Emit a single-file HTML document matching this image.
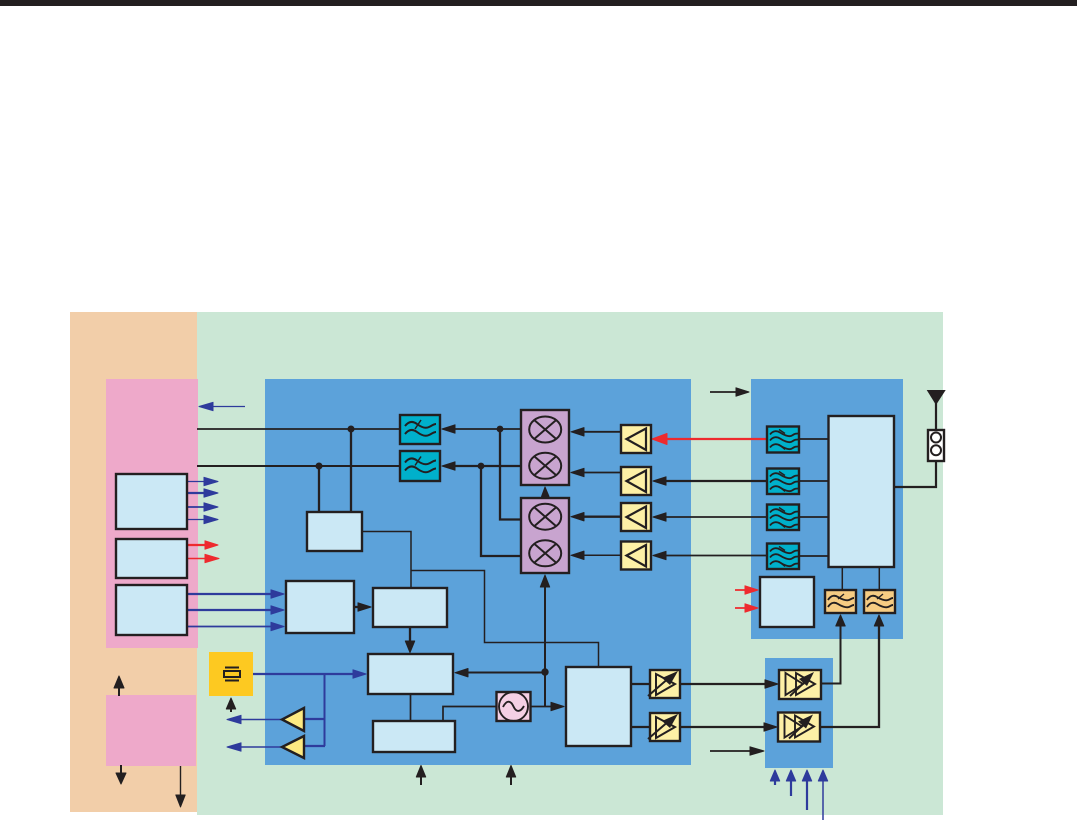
<!DOCTYPE html>
<html>
<head>
<meta charset="utf-8">
<style>
html,body{margin:0;padding:0;background:#fff;width:1077px;height:821px;overflow:hidden}
svg{display:block}
</style>
</head>
<body>
<svg width="1077" height="821" viewBox="0 0 1077 821" xmlns="http://www.w3.org/2000/svg">
<defs>
<g id="f2" fill="none" stroke="#231f20" stroke-width="2">
<path d="M5 11 C9 6 13 6 17 9 S25 14 29 12 S34 9 36 9"/>
<path d="M5 19 C9 14 13 14 17 17 S25 22 29 20 S34 17 36 17"/>
<path d="M15 14 L21 5" stroke-width="1.500"/>
</g>
<g id="f3" fill="none" stroke="#231f20" stroke-width="1.800">
<path d="M3 8 C6 4 10 4 13 6 S22 11 25 9 S29 7 31 7"/>
<path d="M3 14 C6 10 10 10 13 12 S22 17 25 15 S29 13 31 13"/>
<path d="M3 21 C6 17 10 17 13 19 S22 24 25 22 S29 20 31 20"/>
<path d="M12 3 L18 7 M12 18 L18 23" stroke-width="1.400"/>
</g>
<g id="f2p" fill="none" stroke="#231f20" stroke-width="1.900">
<path d="M3 10 C6 5 10 5 13 7 S21 11 24 10 S27 8 29 8"/>
<path d="M3 17 C6 12 10 12 13 14 S21 18 24 17 S27 15 29 15"/>
<path d="M13 9 L19 4" stroke-width="1.400"/>
</g>
<g id="mx" fill="none" stroke="#231f20" stroke-width="2">
<ellipse cx="0" cy="0" rx="16" ry="13"/>
<path d="M-11 -9.500 L11 9.500 M-11 9.500 L11 -9.500"/>
</g>
<g id="amp">
<rect x="0" y="0" width="30" height="28" fill="#fdf0a6" stroke="#231f20" stroke-width="2.400"/>
<path d="M25 3.500 L5.500 14 L25 25 Z" fill="none" stroke="#231f20" stroke-width="2.200"/>
</g>
<g id="pa">
<rect x="0" y="0" width="30" height="28" fill="#fdf0a6" stroke="#231f20" stroke-width="2.400"/>
<path d="M6 4 L25 14 L6 25 Z" fill="none" stroke="#231f20" stroke-width="2"/>
<path d="M-2 26 L20 7" stroke="#231f20" stroke-width="2"/>
<path d="M28 1 L12 8 L20 15 Z" fill="#231f20"/>
</g>
<g id="dr">
<rect x="0" y="0" width="42" height="29" fill="#fdf0a6" stroke="#231f20" stroke-width="2.400"/>
<path d="M6.500 3 L6.500 25 L24 14 Z M17 3 L17 25 L36 14 Z" fill="none" stroke="#231f20" stroke-width="1.900"/>
<path d="M11 26 L30 8" stroke="#231f20" stroke-width="1.900"/>
<path d="M35 2 L20 9 L28 16 Z" fill="#231f20"/>
</g>
</defs>

<!-- top bar -->
<rect x="0" y="0" width="1077" height="6" fill="#231f20"/>

<!-- backgrounds -->
<rect x="70" y="312" width="128" height="500" fill="#f2cea9"/>
<rect x="197" y="312" width="746" height="503" fill="#cbe7d5"/>
<rect x="106" y="379" width="92" height="269" fill="#eea9ca"/>
<rect x="106" y="695" width="90" height="71" fill="#eea9ca"/>
<rect x="265" y="379" width="426" height="386" fill="#5ca2da"/>
<rect x="751" y="379" width="152" height="260" fill="#5ca2da"/>
<rect x="765" y="658" width="68" height="110" fill="#5ca2da"/>
<rect x="209" y="652" width="44" height="44" fill="#fdc921"/>

<!-- black wiring -->
<g fill="none" stroke="#231f20">
<path d="M197 429H399" stroke-width="1.700"/>
<path d="M197 466H399" stroke-width="2"/>
<path d="M351 429V512M319 466V512" stroke-width="2.300"/>
<path d="M362 531.500H411V588" stroke-width="1.500"/>
<path d="M411 570.500H484.500V642.500H598.500V667" stroke-width="1.500"/>
<path d="M410 627V644" stroke-width="2.300"/>
<path d="M354 607H360" stroke-width="2.300"/>
<path d="M520 429H450" stroke-width="1.700"/>
<path d="M520 466H450" stroke-width="2.300"/>
<path d="M500 429V519.500H520M481 466V556H520" stroke-width="2.300"/>
<path d="M620 431.800H580" stroke-width="1.800"/>
<path d="M620 472.500H580" stroke-width="1.800"/>
<path d="M620 516.700H580" stroke-width="2.300"/>
<path d="M620 555.300H580" stroke-width="1.500"/>
<path d="M766 481H662" stroke-width="2.300"/>
<path d="M766 517H662" stroke-width="1.800"/>
<path d="M766 555.500H662" stroke-width="1.800"/>
<path d="M799 439H829M799 481H829M799 517H829M799 556H829" stroke-width="1.700"/>
<path d="M545 585V706.500" stroke-width="2"/>
<path d="M545 672.500H464" stroke-width="2"/>
<path d="M410.500 694V721" stroke-width="1.700"/>
<path d="M443 721V706.500H496" stroke-width="1.700"/>
<path d="M531 706.500H555" stroke-width="1.700"/>
<path d="M631 684H650M631 727H650" stroke-width="2.300"/>
<path d="M680 684H768M680 727H767" stroke-width="2.300"/>
<path d="M821 683.500H840.500V625" stroke-width="2"/>
<path d="M820 727H879V625" stroke-width="2.300"/>
<path d="M842.300 567V590M879.300 567V590" stroke-width="1.500"/>
<path d="M894 487H936V461M936 430V400" stroke-width="2.200"/>
<path d="M710 392H738M710 751H752" stroke-width="1.700"/>
<path d="M119 696V686M121 765V776M231 712V704M421 785V774M511 785V774" stroke-width="2"/>
<path d="M180.500 766V797" stroke-width="1.400"/>
</g>
<!-- black dots -->
<g fill="#231f20">
<circle cx="351" cy="429" r="3.500"/>
<circle cx="319" cy="466" r="3.500"/>
<circle cx="500" cy="429" r="3.400"/>
<circle cx="481" cy="466" r="3.400"/>
<circle cx="545" cy="672" r="3.700"/>
</g>

<!-- navy wiring -->
<g fill="none" stroke="#2e3b9c">
<path d="M245 406.500H210" stroke-width="1.300"/>
<path d="M187 481.500H206M187 519.500H206" stroke-width="1.300"/>
<path d="M187 493H206" stroke-width="2.200"/>
<path d="M187 507H206" stroke-width="1.800"/>
<path d="M187 594H273M187 610H273" stroke-width="2.200"/>
<path d="M187 626.500H273" stroke-width="1.800"/>
<path d="M253 674H355" stroke-width="2.200"/>
<path d="M324.500 674V746" stroke-width="2"/>
<path d="M304 719H325M304 746H325" stroke-width="2.200"/>
<path d="M282 719.500H238M282 747H238" stroke-width="1.500"/>
<path d="M775 778V785M791 778V796M807 778V810" stroke-width="2.200"/>
<path d="M823 778V820" stroke-width="1.500"/>
</g>
<!-- navy heads -->
<g fill="#2e3b9c" stroke="#2e3b9c" stroke-width="1" stroke-linejoin="round">
<path d="M199 406.500L213 402.300V410.700Z"/>
<path d="M218 481.500L204 477.300V485.700Z"/>
<path d="M218 493L204 488.800V497.200Z"/>
<path d="M218 507L204 502.800V511.200Z"/>
<path d="M218 519.500L204 515.300V523.700Z"/>
<path d="M284 594L271 589.800V598.200Z"/>
<path d="M284 610L271 605.800V614.200Z"/>
<path d="M284 626.500L271 622.300V630.700Z"/>
<path d="M366 674L353 669.800V678.200Z"/>
<path d="M227 719.500L241 715.300V723.700Z"/>
<path d="M227 747L241 742.800V751.200Z"/>
<path d="M775 770L770.300 781H779.700Z"/>
<path d="M791 770L786.300 781H795.700Z"/>
<path d="M807 770L802.300 781H811.700Z"/>
<path d="M823 770L818.300 781H827.700Z"/>
</g>

<!-- red -->
<g fill="none" stroke="#ee2a2e">
<path d="M187 545H208" stroke-width="2.200"/>
<path d="M187 558.500H208" stroke-width="1.500"/>
<path d="M660 439H766" stroke-width="2.200"/>
<path d="M735 590H748M735 608H748" stroke-width="1.800"/>
</g>
<g fill="#ee2a2e" stroke="#ee2a2e" stroke-width="1" stroke-linejoin="round">
<path d="M218 545L205 540.800V549.200Z"/>
<path d="M219 558.500L205 554.300V562.700Z"/>
<path d="M652 439L667 433.500V444.500Z"/>
<path d="M758 590L745 585.800V594.200Z"/>
<path d="M758 608L745 603.800V612.200Z"/>
</g>

<!-- light boxes -->
<g fill="#cbe8f5" stroke="#231f20" stroke-width="2.400">
<rect x="116" y="474" width="71" height="55"/>
<rect x="116" y="539" width="71" height="39"/>
<rect x="116" y="585" width="71" height="50"/>
<rect x="307" y="512" width="55" height="39"/>
<rect x="286" y="581" width="68" height="52"/>
<rect x="373" y="588" width="74" height="39"/>
<rect x="368" y="654" width="85" height="40"/>
<rect x="373" y="721" width="82" height="31"/>
<rect x="566" y="667" width="65" height="79"/>
<rect x="828.500" y="416" width="65.500" height="151"/>
<rect x="760" y="577" width="54" height="50"/>
</g>

<!-- crystal -->
<g fill="none" stroke="#231f20" stroke-width="2">
<rect x="224" y="671" width="16" height="6"/>
<path d="M225 667.500H239M225 680.500H239"/>
</g>

<!-- yellow triangles -->
<g fill="#fdea82" stroke="#231f20" stroke-width="2.400">
<path d="M304 708L282 719.500L304 731Z"/>
<path d="M304 736L282 747L304 758Z"/>
</g>

<!-- mixers -->
<rect x="521" y="410" width="48" height="75" fill="#c8a4cf" stroke="#231f20" stroke-width="2.400"/>
<rect x="521" y="498" width="48" height="75" fill="#c8a4cf" stroke="#231f20" stroke-width="2.400"/>
<use href="#mx" x="545.200" y="429.500"/>
<use href="#mx" x="545.200" y="465.800"/>
<use href="#mx" x="545.200" y="516.700"/>
<use href="#mx" x="545.200" y="553.300"/>

<!-- teal filters (left) -->
<rect x="400" y="415" width="40" height="29" fill="#00b0cb" stroke="#231f20" stroke-width="2.400"/>
<rect x="400" y="451" width="40" height="30" fill="#00b0cb" stroke="#231f20" stroke-width="2.400"/>
<use href="#f2" x="400" y="415"/>
<use href="#f2" x="400" y="451.500"/>

<!-- teal filters (right) -->
<g fill="#00b0cb" stroke="#231f20" stroke-width="2.400">
<rect x="767" y="426.500" width="32" height="26"/>
<rect x="767" y="468.500" width="32" height="25.500"/>
<rect x="767" y="504.500" width="32" height="25.500"/>
<rect x="767" y="543.500" width="32" height="25.500"/>
</g>
<use href="#f3" x="767" y="426.500"/>
<use href="#f3" x="767" y="468.500"/>
<use href="#f3" x="767" y="504.500"/>
<use href="#f3" x="767" y="543.500"/>

<!-- peach filters -->
<rect x="825" y="590" width="31" height="23" fill="#f6cc83" stroke="#231f20" stroke-width="2.400"/>
<rect x="864" y="590" width="31" height="23" fill="#f6cc83" stroke="#231f20" stroke-width="2.400"/>
<use href="#f2p" x="825" y="590"/>
<use href="#f2p" x="864" y="590"/>

<!-- rx amps -->
<use href="#amp" x="621" y="425"/>
<use href="#amp" x="621" y="467"/>
<use href="#amp" x="621" y="503"/>
<use href="#amp" x="621" y="541.500"/>

<!-- PAs -->
<use href="#pa" x="650" y="670"/>
<use href="#pa" x="650" y="713"/>
<use href="#dr" x="779" y="670"/>
<use href="#dr" x="778" y="712.500"/>

<!-- oscillator -->
<rect x="496.500" y="692" width="34" height="29" fill="#f4d0e4" stroke="#231f20" stroke-width="2.400"/>
<circle cx="513.500" cy="706.500" r="14.500" fill="none" stroke="#231f20" stroke-width="1.900"/>
<path d="M503 707C507 699 511 701 513.500 706.500S520 713 524 706" fill="none" stroke="#231f20" stroke-width="1.900"/>

<!-- antenna -->
<rect x="928" y="430" width="16" height="31" fill="#fff" stroke="#231f20" stroke-width="2.400"/>
<circle cx="936" cy="437.500" r="5" fill="#fff" stroke="#231f20" stroke-width="2"/>
<circle cx="936" cy="450.300" r="5" fill="#fff" stroke="#231f20" stroke-width="2"/>
<path d="M926.700 390H945.700L936 405Z" fill="#231f20"/>

<!-- black heads -->
<g fill="#231f20" stroke="#231f20" stroke-width="1" stroke-linejoin="round">
<path d="M371 607L358 602.800V611.200Z"/>
<path d="M410 652.500L405.300 641H414.700Z"/>
<path d="M442 429L455 424.800V433.200Z"/>
<path d="M442 466L455 461.800V470.200Z"/>
<path d="M571 431.800L584 427.600V436Z"/>
<path d="M571 472.500L584 468.300V476.700Z"/>
<path d="M571 516.700L584 512.500V520.900Z"/>
<path d="M571 555.300L584 551.100V559.500Z"/>
<path d="M653 481L666 476.800V485.200Z"/>
<path d="M653 517L666 512.800V521.200Z"/>
<path d="M653 555.500L666 551.300V559.700Z"/>
<path d="M545 487L541.500 496.500H549Z"/>
<path d="M545 575L540.300 587H549.700Z"/>
<path d="M455 672.700L468 668.500V676.900Z"/>
<path d="M564 706.500L551 702.300V710.700Z"/>
<path d="M778 684L765 679.800V688.200Z"/>
<path d="M777 727L764 722.800V731.200Z"/>
<path d="M840.500 615L835.800 626H845.200Z"/>
<path d="M879 615L874.300 626H883.700Z"/>
<path d="M749 392L736 387.800V396.200Z"/>
<path d="M764 751L750 746.800V755.200Z"/>
<path d="M119 676L114 688H124Z"/>
<path d="M121 784L116 773H126Z"/>
<path d="M180.500 807L175.800 795H185.200Z"/>
<path d="M231 698L226.300 709H235.700Z"/>
<path d="M421 765.500L416.300 777H425.700Z"/>
<path d="M511 765.500L506.300 777H515.700Z"/>
</g>
</svg>
</body>
</html>
